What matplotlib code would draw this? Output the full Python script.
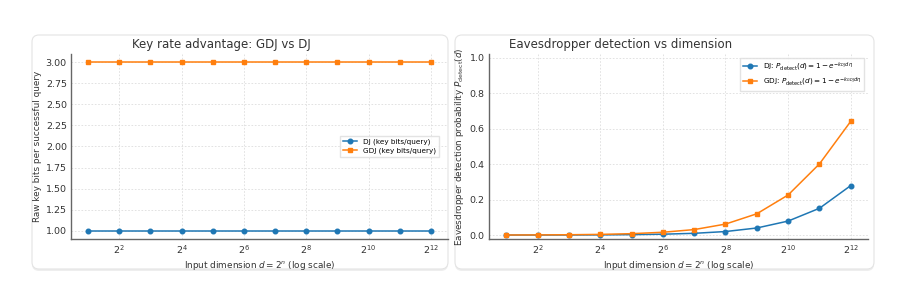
"""Key rate advantage and eavesdropper detection, GDJ vs DJ."""

import matplotlib

matplotlib.use("Agg")
import matplotlib.pyplot as plt  # noqa: E402
from matplotlib.patches import FancyBboxPatch  # noqa: E402
from matplotlib.transforms import IdentityTransform  # noqa: E402

# input dimension d = 2^n, n = 1..12
dims = [2, 4, 8, 16, 32, 64, 128, 256, 512, 1024, 2048, 4096]

# raw key bits per successful query
dj_bits = [1, 1, 1, 1, 1, 1, 1, 1, 1, 1, 1, 1]
gdj_bits = [3, 3, 3, 3, 3, 3, 3, 3, 3, 3, 3, 3]

# eavesdropper detection probability
dj_detect = [0.0002, 0.0003, 0.0006, 0.0013, 0.0026, 0.005,
             0.010, 0.020, 0.040, 0.079, 0.151, 0.279]
gdj_detect = [0.0005, 0.001, 0.002, 0.004, 0.008, 0.016,
              0.031, 0.062, 0.120, 0.226, 0.401, 0.641]

tick_pows = [2, 4, 6, 8, 10, 12]

BLUE = "#1f77b4"
ORANGE = "#ff7f0e"
TEXT = "#333333"

plt.rcParams.update({
    "font.family": "DejaVu Sans",
    "axes.edgecolor": "#666666",
    "axes.linewidth": 1.0,
    "axes.labelcolor": TEXT,
    "xtick.labelcolor": TEXT,
    "ytick.labelcolor": TEXT,
})

W, H = 907, 303
fig = plt.figure(figsize=(W / 100, H / 100), dpi=100)
fig.patch.set_facecolor("white")


def card(x0, y0, x1, y1):
    """Rounded panel background, pixel coords with origin top-left."""
    layers = [(2.0, "#eeeeee", "none"), (0.0, "white", "#e4e4e4")]
    for off, face, edge in layers:
        patch = FancyBboxPatch(
            (x0, H - y1 - off), x1 - x0, y1 - y0,
            boxstyle="round,pad=0,rounding_size=7",
            transform=IdentityTransform(), facecolor=face,
            edgecolor=edge, linewidth=0.8, zorder=0,
        )
        fig.add_artist(patch)


card(32, 35, 448, 269)
card(455, 35, 874, 269)


def make_ax(x0, y0, x1, y1):
    return fig.add_axes([x0 / W, 1 - y1 / H, (x1 - x0) / W, (y1 - y0) / H])


def style(ax):
    ax.set_facecolor("none")
    ax.set_xscale("log", base=2)
    ax.set_xticks([2 ** k for k in tick_pows])
    ax.set_xticklabels([f"$2^{{{k}}}$" for k in tick_pows])
    ax.minorticks_off()
    ax.set_xlim(2 ** 0.45, 2 ** 12.55)
    ax.grid(True, linestyle=(0, (2, 2)), color="#dddddd", linewidth=0.6)
    ax.spines["top"].set_visible(False)
    ax.spines["right"].set_visible(False)
    ax.tick_params(labelsize=6.8, length=0, pad=3)
    ax.set_xlabel(r"Input dimension $d = 2^n$ (log scale)", fontsize=6.4, labelpad=2)


# left panel: key rate
ax1 = make_ax(71, 54, 448, 239)
ax1.plot(dims, dj_bits, marker="o", markersize=3.3, color=BLUE, linewidth=1.1,
         label="DJ (key bits/query)")
ax1.plot(dims, gdj_bits, marker="s", markersize=3.3, color=ORANGE, linewidth=1.1,
         label="GDJ (key bits/query)")
style(ax1)
ax1.set_ylim(0.9, 3.1)
ax1.set_yticks([1.0, 1.25, 1.5, 1.75, 2.0, 2.25, 2.5, 2.75, 3.0])
ax1.set_yticklabels([f"{v:.2f}" for v in ax1.get_yticks()])
ax1.set_ylabel("Raw key bits per successful query", fontsize=6.4, labelpad=3)
ax1.set_title("Key rate advantage: GDJ vs DJ", fontsize=8.5, color=TEXT,
              x=0.40, pad=4)
ax1.legend(loc="center right", fontsize=5.2, frameon=True, fancybox=False,
           edgecolor="#dddddd", borderpad=0.4, handlelength=2.0,
           labelspacing=0.4, bbox_to_anchor=(0.985, 0.5))

# right panel: detection probability
ax2 = make_ax(489, 54, 868, 239)
ax2.plot(dims, dj_detect, marker="o", markersize=3.3, color=BLUE, linewidth=1.1,
         label=r"DJ: $P_{\mathrm{detect}}(d) = 1 - e^{-k_{DJ} d \eta}$")
ax2.plot(dims, gdj_detect, marker="s", markersize=3.3, color=ORANGE, linewidth=1.1,
         label=r"GDJ: $P_{\mathrm{detect}}(d) = 1 - e^{-k_{GDJ} d \eta}$")
style(ax2)
ax2.set_ylim(-0.022, 1.02)
ax2.set_yticks([0.0, 0.2, 0.4, 0.6, 0.8, 1.0])
ax2.set_yticklabels([f"{v:.1f}" for v in ax2.get_yticks()])
ax2.set_ylabel(r"Eavesdropper detection probability $P_{\mathrm{detect}}(d)$",
               fontsize=6.4, labelpad=3)
ax2.set_title("Eavesdropper detection vs dimension", fontsize=8.5, color=TEXT,
              x=0.346, pad=4)
ax2.legend(loc="upper right", fontsize=5.2, frameon=True, fancybox=False,
           edgecolor="#dddddd", borderpad=0.4, handlelength=2.0,
           labelspacing=0.4)

fig.savefig("out.png", dpi=100, facecolor="white")
